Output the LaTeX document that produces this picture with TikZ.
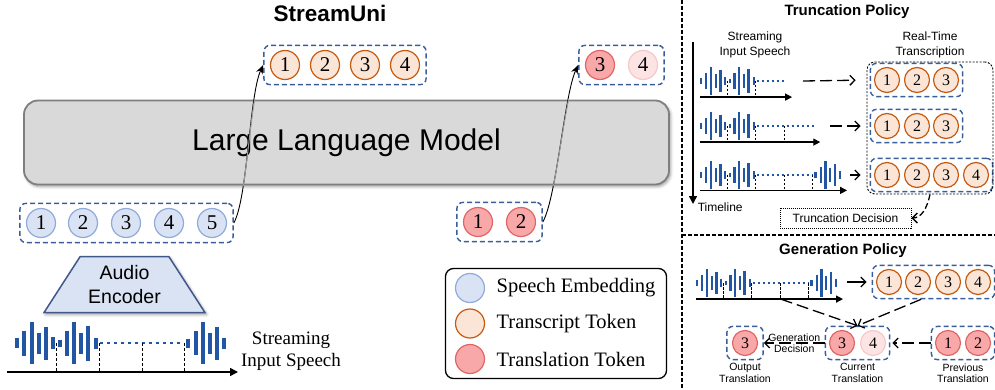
\documentclass[tikz,border=0pt]{standalone}
\usepackage{fontspec}
\setmainfont{Liberation Serif}
\setsansfont{Liberation Sans}
\usetikzlibrary{arrows.meta,shapes.geometric,shadows.blur,fit,positioning,calc}

\definecolor{embfill}{HTML}{DAE3F3}
\definecolor{embdraw}{HTML}{8FAADC}
\definecolor{trfill}{HTML}{FBE5D6}
\definecolor{trdraw}{HTML}{C55A11}
\definecolor{tlfill}{HTML}{F8A8A8}
\definecolor{tldraw}{HTML}{E06666}
\definecolor{tlpale}{HTML}{FCE4E4}
\definecolor{tlpaledraw}{HTML}{F6C8C8}
\definecolor{grpblue}{HTML}{3A5E9C}
\definecolor{waveblue}{HTML}{2255A4}
\definecolor{llmgray}{HTML}{D9D9D9}
\definecolor{llmedge}{HTML}{7F7F7F}
\definecolor{encedge}{HTML}{41598A}

% speech bursts, x position / bar height
\def\speechstart{17/10,24/25,32/42,39/21,46/33,53/12,60/7,67/25,74/42,81/21,88/35,96/11}
\def\speechfull{17/10,24/25,32/42,39/21,46/33,53/12,60/7,67/25,74/42,81/21,88/35,96/11,188/9,196/24,203/42,210/21,217/33,224/11}
\newcommand{\wavebars}[1]{\foreach \x/\h in #1 {\draw[wavebar] (\x,-\h/2) -- (\x,\h/2);}}

\begin{document}
\begin{tikzpicture}[x=1pt,y=-1pt,
    tok/.style={circle,inner sep=0pt,minimum size=29pt,line width=1.2pt,font=\fontsize{21}{21}\selectfont},
    rtok/.style={minimum size=25pt,font=\fontsize{16}{16}\selectfont},
    emb/.style={tok,fill=embfill,draw=embdraw},
    trs/.style={tok,fill=trfill,draw=trdraw},
    trl/.style={tok,fill=tlfill,draw=tldraw},
    pale/.style={tok,fill=tlpale,draw=tlpaledraw},
    tokgroup/.style={draw=grpblue,dash pattern=on 5pt off 3pt,line width=1.4pt,rounded corners=6pt,inner xsep=6pt,inner ysep=4.5pt},
    rgroup/.style={tokgroup,inner sep=3.5pt},
    llm/.style={rounded corners=14pt,minimum width=645pt,minimum height=84pt,fill=llmgray,draw=llmedge,line width=1.8pt,
      font=\sffamily\fontsize{30}{36}\selectfont,
      blur shadow={shadow xshift=1.5pt,shadow yshift=-2pt,shadow blur radius=3pt,shadow opacity=40}},
    enc/.style={trapezium,trapezium angle=54,trapezium stretches=true,minimum width=161pt,minimum height=56pt,
      fill=embfill,draw=encedge,line width=1.5pt,align=center,font=\sffamily\fontsize{19.5}{23.5}\selectfont,
      blur shadow={shadow xshift=1.5pt,shadow yshift=-2pt,shadow blur radius=3pt,shadow opacity=40}},
    llmline/.style={gray!80,line width=1pt},
    wavebar/.style={waveblue,line width=3.5pt},
    wavedots/.style={waveblue,line width=2.8pt,dash pattern=on 3pt off 4pt},
    cutline/.style={black,line width=1pt,dash pattern=on 3pt off 2pt},
    timeaxis/.style={black,line width=1.5pt,-{Triangle[length=8pt,width=8pt]}},
    rwave/.style={wavebar/.append style={line width=2.3pt},
      wavedots/.append style={line width=2.2pt,dash pattern=on 2.5pt off 2.5pt},
      cutline/.append style={line width=0.9pt,dash pattern=on 2.5pt off 1.5pt},
      timeaxis/.append style={line width=1.3pt,-{Triangle[length=7pt,width=7pt]}}},
    flow/.style={black,line width=0.9pt,-{Stealth[length=9pt,width=7pt]}},
    dasharrow/.style={black,line width=1.3pt,dash pattern=on 12pt off 5pt,-{Straight Barb[length=5pt,width=10pt]}},
    plainarrow/.style={black,line width=1.3pt,-{Straight Barb[length=5pt,width=10pt]}},
    heading/.style={font=\sffamily\bfseries\fontsize{15}{18}\selectfont},
    smalltext/.style={font=\sffamily\fontsize{12}{15}\selectfont,align=center},
    tinytext/.style={font=\sffamily\fontsize{10.5}{11.5}\selectfont,align=center,inner sep=1pt},
    legendtext/.style={font=\fontsize{20.5}{24}\selectfont,anchor=west},
    divider/.style={black,line width=1.1pt,dash pattern=on 4pt off 2pt}
  ]
  \useasboundingbox (0,0) rectangle (995,390);

  %% ---- StreamUni ----
  \node[heading,font=\sffamily\bfseries\fontsize{22.5}{27}\selectfont] (title) at (330,13) {StreamUni};

  \node[llm] (llm) at (346.5,142.5) {Large Language Model};

  \foreach \i/\x in {1/41,2/83,3/126,4/169,5/212}
    \node[emb] (e\i) at (\x,223) {\i};
  \node[tokgroup,fit=(e1)(e5)] (embs) {};

  \foreach \i/\x in {1/285,2/325,3/365,4/405}
    \node[trs] (t\i) at (\x,65) {\i};
  \node[tokgroup,fit=(t1)(t4)] (trans) {};

  \node[trl] (in1) at (478,222) {1};
  \node[trl] (in2) at (521,222) {2};
  \node[tokgroup,fit=(in1)(in2)] (trin) {};
  \node[trl] (out3) at (600,65) {3};
  \node[pale] (out4) at (643,65) {4};
  \node[tokgroup,fit=(out3)(out4)] (trout) {};

  \draw[flow] (embs.east) .. controls +(14,-25) and +(-14,30) .. (trans.west);
  \draw[flow] (trin.east) .. controls +(14,-25) and +(-14,30) .. (trout.west);
  % inside the model box the lines look greyed out
  \begin{scope}
    \clip (llm.south west) rectangle (llm.north east);
    \draw[llmline] (embs.east) .. controls +(14,-25) and +(-14,30) .. (trans.west);
    \draw[llmline] (trin.east) .. controls +(14,-25) and +(-14,30) .. (trout.west);
  \end{scope}

  \node[enc] (enc) at (124.5,284.5) {Audio\\Encoder};

  % input speech under the encoder
  \begin{scope}[shift={(0,343)}]
    \wavebars{\speechfull}
    \draw[wavedots] (100,0) -- (183,0);
    \foreach \x in {56,99,142,184} \draw[cutline] (\x,0) -- (\x,29);
    \draw[timeaxis] (7,29) -- (238,29);
  \end{scope}
  \node[font=\fontsize{19}{22}\selectfont,align=center] (inspeech) at (291,351) {Streaming\\Input Speech};

  % legend
  \node[draw,rounded corners=8pt,line width=1.3pt,minimum width=221pt,minimum height=110pt] (legend) at (556,323.5) {};
  \node[emb] (lg1) at (470,288) {};
  \node[trs] (lg2) at (470,323.5) {};
  \node[trl] (lg3) at (470,359) {};
  \node[legendtext,right=8pt of lg1] (lgt1) {Speech Embedding};
  \node[legendtext,right=8pt of lg2] (lgt2) {Transcript Token};
  \node[legendtext,right=8pt of lg3] (lgt3) {Translation Token};

  %% ---- right panels ----
  \draw[divider] (682,0) -- (682,390);
  \draw[divider] (682,235) -- (995,235);

  % truncation policy
  \node[heading] (trunc) at (847,12) {Truncation Policy};
  \node[smalltext] (instream) at (755,44.5) {Streaming\\Input Speech};
  \node[smalltext] (realtime) at (930,44.5) {Real-Time\\Transcription};
  \draw[timeaxis] (693,42) -- (693,204) node[smalltext,anchor=west,inner sep=1pt] (timeline) at (696,207) {Timeline};

  \begin{scope}[shift={(689.6,81)},scale=0.67,rwave]
    \wavebars{\speechstart}
    \draw[wavedots] (100,0) -- (142,0);
    \foreach \x in {56,99} \draw[cutline] (\x,0) -- (\x,24);
    \draw[timeaxis] (15.5,24) -- (153,24);
  \end{scope}
  \begin{scope}[shift={(689.6,126)},scale=0.67,rwave]
    \wavebars{\speechstart}
    \draw[wavedots] (100,0) -- (187,0);
    \foreach \x in {56,99,142} \draw[cutline] (\x,0) -- (\x,24);
    \draw[timeaxis] (15.5,24) -- (195,24);
  \end{scope}
  \begin{scope}[shift={(689.6,175)},scale=0.67,rwave]
    \wavebars{\speechfull}
    \draw[wavedots] (100,0) -- (183,0);
    \foreach \x in {56,99,142,184} \draw[cutline] (\x,0) -- (\x,23);
    \draw[timeaxis] (15.5,23) -- (235,23);
  \end{scope}

  \foreach \i/\x in {1/887,2/917,3/946} {
    \node[trs,rtok] (ra\i) at (\x,80) {\i};
    \node[trs,rtok] (rb\i) at (\x,126) {\i};
  }
  \foreach \i/\x in {1/887,2/917,3/946,4/976}
    \node[trs,rtok] (rc\i) at (\x,175) {\i};
  \node[rgroup,fit=(ra1)(ra3)] (g1) {};
  \node[rgroup,fit=(rb1)(rb3)] (g2) {};
  \node[rgroup,fit=(rc1)(rc4)] (g3) {};
  \node[draw,line width=0.9pt,dash pattern=on 2pt off 1.5pt,rounded corners=8pt,
    minimum width=126pt,minimum height=132pt] (tbox) at (930,128) {};

  \coordinate (r1) at (803,81);
  \coordinate (r2) at (830,126);
  \coordinate (r3) at (850,175);
  \draw[dasharrow,shorten >=14pt] (r1) -- (g1.west);
  \draw[dasharrow,shorten >=9pt] (r2) -- (g2.west);
  \draw[plainarrow,shorten >=9pt] (r3) -- (g3.west);

  \node[draw,line width=0.8pt,dash pattern=on 1pt off 1pt,minimum width=131pt,minimum height=20pt,
    inner sep=1pt,font=\sffamily\fontsize{12}{14}\selectfont] (tdec) at (845.5,218) {Truncation Decision};
  \draw[dasharrow,dash pattern=on 6pt off 3pt] (tbox.south) .. controls +(-3,14) and +(10,0) .. (tdec.east);

  % generation policy
  \node[heading] (gen) at (843,251) {Generation Policy};
  \begin{scope}[shift={(685.6,283)},scale=0.67,rwave]
    \wavebars{\speechfull}
    \draw[wavedots] (100,0) -- (183,0);
    \foreach \x in {56,99,142,184} \draw[cutline] (\x,0) -- (\x,24);
    \draw[timeaxis] (15.5,24) -- (235,24);
    \coordinate (gcut) at (142,24);
  \end{scope}

  \foreach \i/\x in {1/889,2/918,3/948,4/978}
    \node[trs,rtok] (gt\i) at (\x,282) {\i};
  \node[rgroup,fit=(gt1)(gt4)] (gtr) {};
  \node[trl,rtok] (gp1) at (948,343) {1};
  \node[trl,rtok] (gp2) at (978,343) {2};
  \node[rgroup,fit=(gp1)(gp2)] (gprev) {};
  \node[trl,rtok] (gc3) at (842,343) {3};
  \node[pale,rtok] (gc4) at (873,343) {4};
  \node[rgroup,fit=(gc3)(gc4)] (gcur) {};
  \node[trl,rtok] (go3) at (745,343) {3};
  \node[rgroup,inner xsep=5pt,fit=(go3)] (gout) {};

  \coordinate (gs) at (847,282);
  \draw[plainarrow,shorten >=5pt] (gs) -- (gtr.west);
  \draw[dasharrow] (gcut) -- (gcur.north);
  \draw[dasharrow] ($(gtr.south west)!0.4!(gtr.south east)$) -- (gcur.north);
  \draw[dasharrow,shorten >=2pt] (gprev.west) -- (gcur.east);
  \draw[dasharrow] (gcur.west) -- node[tinytext] (gdec) {Generation\\Decision} (gout.east);

  \node[tinytext,below=2pt of gout] (outlab) {Output\\Translation};
  \node[tinytext,below=2pt of gcur] (curlab) {Current\\Translation};
  \node[tinytext,below=2pt of gprev] (prevlab) {Previous\\Translation};
\end{tikzpicture}
\end{document}
